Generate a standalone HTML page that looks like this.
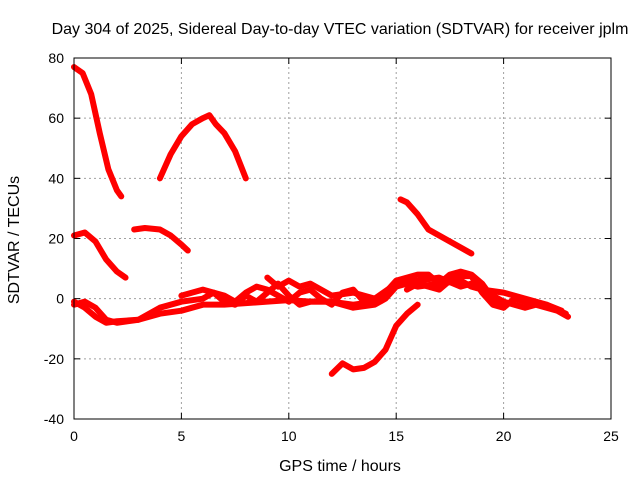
<!DOCTYPE html>
<html><head><meta charset="utf-8"><style>
body{margin:0;background:#fff}
svg{display:block;font-family:"Liberation Sans",sans-serif;font-size:14px}
.big{font-size:16px}
</style></head><body>
<svg id="chart" width="640" height="480">
<text class="big" x="340" y="34" text-anchor="middle">Day 304 of 2025, Sidereal Day-to-day VTEC variation (SDTVAR) for receiver jplm</text>
<text class="big" x="340" y="471" text-anchor="middle">GPS time / hours</text>
<text class="big" transform="translate(19,240) rotate(-90)" text-anchor="middle">SDTVAR / TECUs</text>
<g id="grid"></g><g id="ticks"></g><g id="series"></g>
<rect x="74" y="58" width="537" height="361" fill="none" stroke="#000"/>
</svg>
<script>
const xTicks=[0,5,10,15,20,25];
const yTicks=[-40,-20,0,20,40,60,80];
const sA=[[0,77],[0.4,75],[0.8,68],[1.2,55],[1.6,43],[2,36],[2.2,34]];
const sB=[[4,40],[4.5,48],[5,54],[5.5,58],[6,60],[6.3,61],[6.6,58],[7,55],[7.5,49],[8,40]];
const sC=[[0,21],[0.5,22],[1,19],[1.5,13],[2,9],[2.4,7]];
const sD=[[2.8,23],[3.3,23.5],[4,23],[4.5,21],[5,18],[5.3,16]];
const sE=[[12,-25],[12.5,-21.5],[13,-23.5],[13.5,-23],[14,-21],[14.5,-17],[15,-9],[15.5,-5],[16,-2]];
const sF=[[15.2,33],[15.5,32],[16,28],[16.5,23],[17,21],[17.5,19],[18,17],[18.5,15]];
const sG=[[0,-1],[0.5,-3],[1,-6],[1.5,-8],[2,-7.5],[3,-7],[4,-5],[5,-4],[6,-2],[7,-2],[8,-1.5],[9,-1],[10,-0.5],[11,-1],[12,-1],[13,-2],[14,-1]];
const sH=[[0,-2],[0.5,-1],[1,-3],[1.5,-7],[2,-8],[3,-7],[4,-3],[5,-1],[6,0],[6.5,2],[7,1],[7.5,-1],[8,2],[8.5,4],[9,3],[9.5,1],[10,-1],[10.5,2],[11,3],[11.5,0],[12,-2],[12.5,2],[13,3],[13.5,-1],[14,0],[14.5,2],[15,6],[15.5,7],[16,8],[16.5,8],[17,5],[17.5,8],[18,9],[18.5,8],[19,5],[19.5,0],[20,-3]];
const sI=[[5,1],[5.5,2],[6,3],[6.5,2],[7,-1],[7.5,-2],[8,1],[8.5,-1],[9,2],[9.5,5],[10,1],[10.5,-2],[11,-1],[12,-1],[13,-3],[14,-2],[14.5,0],[15,4],[15.5,5],[16,4],[17,5],[18,6],[18.5,4],[19,3],[20,2],[21,0],[22,-2],[22.9,-5]];
const sJ=[[9,7],[9.5,4],[10,6],[10.5,4],[11,5],[11.5,3],[12,1],[13,2],[14,0],[15,5],[16,6],[17,7],[18,4],[18.5,5],[19,4],[19.5,1],[20,-1],[20.5,-2],[21,-3],[21.5,-2],[22,-3],[22.5,-4],[23,-6]];
const sK=[[15.5,3],[16,5],[17,3],[17.5,6],[18,7.5],[18.5,7.5],[19,2],[19.5,-2],[20,-3],[20.5,0],[21,-1],[22,-2],[22.7,-4]];
const allSeries=[sA,sB,sC,sD,sE,sF,sG,sH,sI,sJ,sK];
const NS='http://www.w3.org/2000/svg';
const X0=74,X1=611,Y0=419,Y1=58;
function xs(v){return X0+(v-0)/(25-0)*(X1-X0);}
function ys(v){return Y0-(v+40)/(120)*(Y0-Y1);}
function mk(t,a,p){const e=document.createElementNS(NS,t);for(const k in a)e.setAttribute(k,a[k]);p.appendChild(e);return e;}
const grid=document.getElementById('grid'),ticks=document.getElementById('ticks'),ser=document.getElementById('series');
xTicks.forEach(v=>{const x=xs(v);
 if(v>0&&v<25){const l=mk('line',{x1:x,x2:x,y1:Y0,y2:Y1,stroke:'#a0a0a0','stroke-dasharray':'2,3'},grid);
 
 }
 mk('line',{x1:x,x2:x,y1:Y0,y2:Y0-6,stroke:'#000'},ticks);
 mk('line',{x1:x,x2:x,y1:Y1,y2:Y1+6,stroke:'#000'},ticks);
 const t=mk('text',{x:x,y:Y0+22,'text-anchor':'middle'},ticks);t.textContent=v;
 
 });
yTicks.forEach(v=>{const y=ys(v);
 if(v>-40&&v<80){const l=mk('line',{x1:X0,x2:X1,y1:y,y2:y,stroke:'#a0a0a0','stroke-dasharray':'2,3'},grid);
 
 }
 mk('line',{x1:X0,x2:X0+6,y1:y,y2:y,stroke:'#000'},ticks);
 mk('line',{x1:X1,x2:X1-6,y1:y,y2:y,stroke:'#000'},ticks);
 const t=mk('text',{x:X0-10,y:y+5,'text-anchor':'end'},ticks);t.textContent=v;
 
 });
allSeries.forEach((s,i)=>{
 const p=mk('polyline',{points:s.map(d=>xs(d[0])+','+ys(d[1])).join(' '),fill:'none',stroke:'#f00','stroke-width':6,'stroke-linejoin':'round','stroke-linecap':'round'},ser);
 
 
});
</script>
</body></html>
